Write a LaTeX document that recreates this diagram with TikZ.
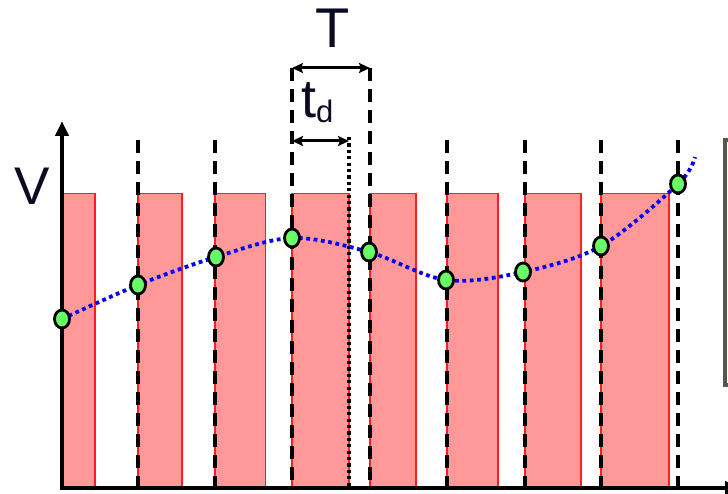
\documentclass[tikz,border=0pt]{standalone}
\usepackage{fontspec}
\setmainfont{Liberation Sans}
\usetikzlibrary{arrows.meta,shapes.geometric}
\definecolor{barfill}{RGB}{255,153,153}
\definecolor{baredge}{RGB}{255,30,30}
\definecolor{ptfill}{RGB}{102,255,102}
\definecolor{txt}{RGB}{10,10,35}
\definecolor{boxedge}{RGB}{85,85,85}
\definecolor{boxfill}{RGB}{255,255,220}
\tikzset{
  bar/.style={fill=barfill, draw=baredge, line width=1.3pt},
  gridline/.style={line width=3.6pt, dash pattern=on 13pt off 8pt},
  dotline/.style={line width=3.4pt, dash pattern=on 3.2pt off 3.2pt},
  axis/.style={line width=3.8pt, -{Triangle[length=15pt,width=13pt]}},
  dimarrow/.style={line width=3pt, {Stealth[length=11pt,width=10pt,inset=2pt]}-{Stealth[length=11pt,width=10pt,inset=2pt]}},
  curve/.style={blue, line width=3.8pt, dash pattern=on 3.8pt off 3.6pt},
  sample/.style={ellipse, draw=black, line width=2.8pt, fill=ptfill, minimum width=15pt, minimum height=18pt, inner sep=0pt},
  lbl/.style={text=txt, inner sep=0pt}
}
\begin{document}
\begin{tikzpicture}[x=1pt,y=-1pt]
\useasboundingbox (0,0) rectangle (728,494);
\clip (0,0) rectangle (728,494);

% right partial box
\draw[draw=boxedge, fill=boxfill, line width=4pt] (725,140) rectangle (760,385);

% bars
\foreach \a/\b in {62/95,138/182,215/265.5,292/349,370/416,447/498,525/581,601/669}
  \draw[bar] (\a,193.5) rectangle (\b,488);

% grid lines
\foreach \x/\t [count=\i] in {138/140,215/140,292/68,370/68,447/140,525/140,601/140,678/140}{
  \coordinate (g\i t) at (\x,\t);
  \coordinate (g\i b) at (\x,488);
  \draw[gridline] (g\i t) -- (g\i b);
}
\coordinate (dt) at (349,137);
\coordinate (db) at (349,488);
\draw[dotline] (dt) -- (db);

% axes
\coordinate (o) at (62,488);
\coordinate (ytip) at (62,121);
\coordinate (xtip) at (740,488);
\draw[axis] (o) -- (ytip);
\draw[axis] ([xshift=-1.9pt]o) -- (xtip);

% dimension arrows
\coordinate (Tl) at (292,68);
\coordinate (Tr) at (370,68);
\draw[dimarrow] (Tl) -- (Tr);
\coordinate (tdl) at (292,141);
\coordinate (tdr) at (349,141);
\draw[dimarrow] (tdl) -- (tdr);

% labels
\node[lbl, anchor=base] (lblV) at (32,205) {\fontsize{53}{60}\selectfont V};
\node[lbl, anchor=base] (lblT) at (333,48) {\fontsize{56}{60}\selectfont T};
\node[lbl, anchor=base west] (lbltd) at (301,118) {\fontsize{54}{60}\selectfont t\raisebox{-4.5pt}{\fontsize{31}{34}\selectfont d}};

% sample points
\foreach \x/\y [count=\i] in {62/319,138/285,216/257,292/238,369/252,446/280,523/272,601/246,678/184}
  \coordinate (c\i) at (\x,\y);
\coordinate (cend) at (695,157);
\draw[curve] plot[smooth, tension=0.55] coordinates {(c1) (c2) (c3) (c4) (c5) (c6) (c7) (c8) (c9) (cend)};
\foreach \i in {1,...,9}
  \node[sample] (p\i) at (c\i) {};
\end{tikzpicture}
\end{document}
